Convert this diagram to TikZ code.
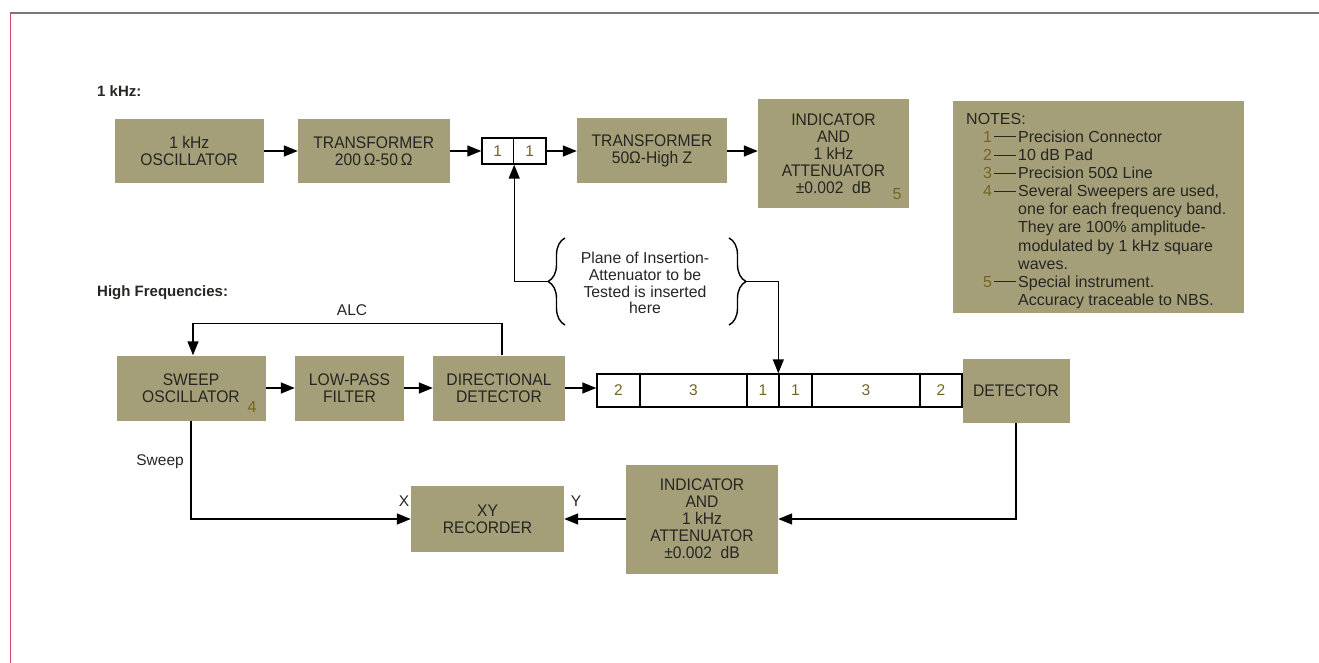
\documentclass[tikz,border=0pt]{standalone}
\usepackage{fontspec}
\setmainfont{Liberation Sans}
\newfontfamily\boxfont[FakeStretch=0.93]{Liberation Sans}
\usetikzlibrary{arrows.meta,decorations.pathreplacing}
\definecolor{boxcol}{RGB}{164,159,120}
\definecolor{numcol}{RGB}{118,100,36}
\definecolor{txtcol}{RGB}{38,38,34}
\definecolor{framecol}{RGB}{120,120,120}
\definecolor{leftcol}{RGB}{205,70,100}
\begin{document}
\begin{tikzpicture}[x=1pt,y=-1pt,
  blk/.style={fill=boxcol,text=txtcol,align=center,inner sep=0pt,font=\boxfont\fontsize{16.8}{17}\selectfont},
  cell/.style={draw=black,line width=1.4pt,fill=white,text=numcol,inner sep=0pt,font=\fontsize{15.5}{17}\selectfont},
  arr/.style={-{Triangle[length=14pt,width=11pt]},line width=1.4pt},
  wire/.style={line width=1.4pt},
  lbl/.style={text=txtcol,inner sep=0pt,font=\fontsize{15.5}{17}\selectfont},
  head/.style={text=txtcol,inner sep=0pt,font=\bfseries\fontsize{15}{17}\selectfont},
  numb/.style={text=numcol,inner sep=0pt,font=\fontsize{16}{17}\selectfont},
  notebox/.style={fill=boxcol,inner sep=0pt},
  notetext/.style={text=txtcol,align=left,inner sep=0pt,font=\fontsize{16}{18.1}\selectfont}
]
\useasboundingbox[fill=white] (0,0) rectangle (1319,663);
% frame
\draw[framecol,line width=1.2pt] (10,13) -- (1319,13);
\draw[leftcol,line width=1pt] (10,13) -- (10,663);

% headings
\node[head,anchor=west] (h1) at (97,91) {1 kHz:};
\node[head,anchor=west] (h2) at (97,293) {High Frequencies:};

% row 1
\node[blk,minimum width=149.5pt,minimum height=64pt] (osc) at (189.25,151) {1 kHz\\OSCILLATOR};
\node[blk,minimum width=151.5pt,minimum height=64pt] (tr1) at (373.75,151) {TRANSFORMER\\200\,Ω-50\,Ω};
\node[cell,minimum width=31.5pt,minimum height=26pt] (c1a) at (497.75,151) {1};
\node[cell,minimum width=32.5pt,minimum height=26pt] (c1b) at (529.75,151) {1};
\node[blk,minimum width=150pt,minimum height=65pt] (tr2) at (652,151) {TRANSFORMER\\50Ω-High Z};
\node[blk,minimum width=151pt,minimum height=109pt] (ind1) at (833.5,153.5) {INDICATOR\\AND\\1 kHz\\ATTENUATOR\\±0.002\ \ dB};
\node[numb] (n5) at (897,194) {5};

% notes
\node[notebox,anchor=north west,minimum width=291pt,minimum height=212pt] (notes) at (953,101) {};
\node[notetext,anchor=north west] (notestext) at (966,113) {%
NOTES:\\
\makebox[52pt][l]{\hspace*{17pt}\textcolor{numcol}{1}\hspace{2pt}\rule[0.32em]{22pt}{0.9pt}}Precision Connector\\
\makebox[52pt][l]{\hspace*{17pt}\textcolor{numcol}{2}\hspace{2pt}\rule[0.32em]{22pt}{0.9pt}}10 dB Pad\\
\makebox[52pt][l]{\hspace*{17pt}\textcolor{numcol}{3}\hspace{2pt}\rule[0.32em]{22pt}{0.9pt}}Precision 50Ω Line\\
\makebox[52pt][l]{\hspace*{17pt}\textcolor{numcol}{4}\hspace{2pt}\rule[0.32em]{22pt}{0.9pt}}Several Sweepers are used,\\
\hspace*{52pt}one for each frequency band.\\
\hspace*{52pt}They are 100\% amplitude-\\
\hspace*{52pt}modulated by 1 kHz square\\
\hspace*{52pt}waves.\\
\makebox[52pt][l]{\hspace*{17pt}\textcolor{numcol}{5}\hspace{2pt}\rule[0.32em]{22pt}{0.9pt}}Special instrument.\\
\hspace*{52pt}Accuracy traceable to NBS.};

% brace group
\node[lbl,align=center,font=\fontsize{15.8}{16.8}\selectfont] (plane) at (645,283) {Plane of Insertion-\\Attenuator to be\\Tested is inserted\\here};
\draw[wire,decorate,decoration={brace,amplitude=17pt,aspect=0.5}] (565,325) -- (565,238);
\draw[wire,decorate,decoration={brace,amplitude=17pt,aspect=0.5}] (729,238) -- (729,325);
\coordinate (lb) at (548,281.5);
\coordinate (rb) at (746,281.5);

% row 2
\node[blk,minimum width=149pt,minimum height=65pt] (sweep) at (191,388) {SWEEP\\OSCILLATOR};
\node[numb] (n4) at (252,407) {4};
\node[blk,minimum width=109pt,minimum height=65pt] (lp) at (349.5,388) {LOW-PASS\\FILTER};
\node[blk,minimum width=132pt,minimum height=65pt] (dir) at (499,388) {DIRECTIONAL\\DETECTOR};
\node[lbl] (alc) at (352,310) {ALC};

\node[cell,minimum width=43pt,minimum height=33pt] (l1) at (618.5,390.5) {2};
\node[cell,minimum width=107pt,minimum height=33pt] (l2) at (693.5,390.5) {3};
\node[cell,minimum width=32pt,minimum height=33pt] (l3) at (763,390.5) {1};
\node[cell,minimum width=33pt,minimum height=33pt] (l4) at (795.5,390.5) {1};
\node[cell,minimum width=108pt,minimum height=33pt] (l5) at (866,390.5) {3};
\node[cell,minimum width=42pt,minimum height=33pt] (l6) at (941,390.5) {2};
\node[blk,minimum width=107pt,minimum height=64pt] (det) at (1016,391) {DETECTOR};

% row 3
\node[blk,minimum width=153pt,minimum height=66pt] (xy) at (487.5,519) {XY\\RECORDER};
\node[blk,minimum width=152pt,minimum height=109pt] (ind2) at (702,519) {INDICATOR\\AND\\1 kHz\\ATTENUATOR\\±0.002\ \ dB};
\node[lbl] (lx) at (404,501) {X};
\node[lbl] (ly) at (576,501) {Y};
\node[lbl,anchor=east] (lsw) at (184,462) {Sweep};

% connectors
\draw[arr] (osc.east) -- (tr1.west);
\draw[arr] (tr1.east) -- (c1a.west);
\draw[arr] (c1b.east) -- (tr2.west);
\draw[arr] (tr2.east) -- (ind1.west |- tr2.east);
\draw[arr] (lb) -| (c1a.south east);
\draw[arr] (rb) -| (l4.north west);
\draw[arr] ([xshift=3pt]dir.north) -- ++(0,-32) -| ([xshift=2pt]sweep.north);
\draw[arr] (sweep.east) -- (lp.west);
\draw[arr] (lp.east) -- (dir.west);
\draw[arr] (dir.east) -- (l1.west |- dir.east);
\draw[arr] (det.south) |- (ind2.east);
\draw[arr] (ind2.west) -- (xy.east);
\draw[arr] (sweep.south) |- (xy.west);
\end{tikzpicture}
\end{document}
